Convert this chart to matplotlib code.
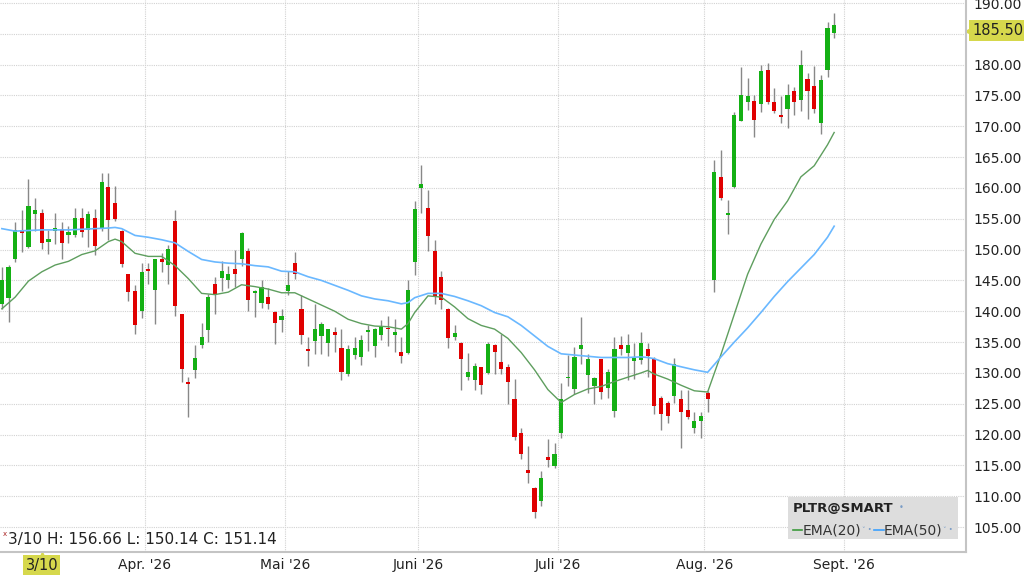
"""
plot.py
-------
PLTR daily candles (Mar-Aug '26) with EMA(20) / EMA(50) overlays,
styled like the broker chart window.
"""

import matplotlib
matplotlib.use("Agg")
import matplotlib.pyplot as plt
import matplotlib.transforms as mtransforms
from matplotlib.patches import Rectangle
from matplotlib.lines import Line2D

# --- data, x = trading-day index, 0 = 3/10 ---------------------------------
first_idx = -6
opens = [141.1, 142.1, 148.5, 153.0, 150.5, 155.7,
         155.9, 151.3, 153.1, 153.4, 152.4, 152.4, 155.1, 153.2, 155.1, 153.5,
         160.2, 157.5, 153.1, 146.0, 143.3, 140.1, 146.9, 143.5, 148.4, 147.5,
         154.7, 139.5, 128.5, 130.4, 134.5, 136.9, 144.4, 145.4, 145.0, 146.9,
         148.5, 149.8, 143.0, 141.3, 142.3, 139.9, 138.6, 143.3, 147.8, 140.4,
         133.9, 135.2, 136.0, 134.9, 136.6, 134.1, 129.8, 132.9, 132.6, 136.6,
         134.3, 136.1, 137.3, 136.2, 133.4, 133.2, 148.0, 160.0, 156.7, 149.8,
         145.5, 140.4, 135.8, 134.9, 129.3, 128.9, 130.9, 130.0, 134.6, 131.8,
         130.9, 125.8, 120.2, 114.2, 111.4, 109.2, 116.3, 114.9, 120.2, 129.1,
         127.4, 133.8, 129.6, 127.8, 132.2, 127.6, 123.8, 134.5, 133.2, 131.9,
         132.1, 133.8, 132.3, 126.0, 125.2, 126.2, 125.8, 124.0, 121.1, 122.2,
         126.7, 145.0, 161.8, 155.7, 160.1, 170.9, 174.0, 174.1, 173.7, 179.1,
         173.9, 171.9, 172.8, 175.8, 174.3, 177.6, 176.5, 170.6, 179.1, 185.2]
highs = [147.2, 147.5, 154.5, 156.4, 161.5, 158.4,
         156.66, 153.2, 155.9, 154.5, 153.9, 156.8, 156.8, 156.3, 156.6, 162.5,
         162.5, 160.3, 153.2, 146.1, 144.2, 147.8, 147.8, 148.5, 149.5, 150.7,
         156.4, 139.6, 129.3, 134.5, 138.1, 142.8, 145.5, 148.2, 147.3, 150.0,
         152.8, 150.2, 143.5, 145.1, 143.8, 140.0, 140.3, 146.5, 149.6, 142.6,
         135.8, 141.1, 138.2, 137.2, 137.4, 137.1, 134.6, 135.8, 136.1, 137.7,
         137.3, 138.6, 139.2, 138.7, 135.8, 145.0, 157.9, 163.8, 159.6, 151.6,
         146.5, 140.5, 137.8, 135.0, 133.3, 131.6, 131.0, 135.0, 134.7, 136.3,
         131.5, 129.0, 121.0, 118.1, 111.5, 114.1, 119.2, 118.7, 128.4, 132.9,
         134.2, 139.0, 133.1, 129.4, 132.3, 130.7, 135.8, 136.0, 136.3, 134.8,
         136.6, 134.8, 132.5, 126.3, 125.4, 132.4, 127.2, 127.2, 123.6, 123.6,
         127.1, 164.5, 166.1, 158.0, 172.3, 179.6, 177.8, 175.0, 179.9, 180.2,
         176.2, 174.9, 176.8, 176.3, 182.4, 178.7, 179.8, 178.4, 186.9, 188.4]
lows = [140.4, 138.2, 148.0, 149.6, 150.2, 153.0,
        150.14, 149.3, 150.9, 148.5, 151.1, 152.0, 152.1, 150.4, 149.1, 153.1,
        151.6, 154.7, 147.1, 141.6, 136.3, 138.9, 144.4, 137.9, 146.4, 144.5,
        139.2, 128.5, 122.8, 129.2, 134.0, 135.0, 139.6, 143.3, 143.8, 144.0,
        147.4, 140.0, 139.0, 140.6, 140.4, 134.7, 136.6, 142.6, 145.2, 134.7,
        131.2, 133.0, 133.0, 132.8, 133.4, 128.8, 129.5, 132.3, 131.3, 133.6,
        132.5, 135.4, 134.3, 133.4, 131.6, 133.0, 145.9, 156.0, 149.8, 141.2,
        140.3, 134.0, 135.3, 127.3, 128.8, 127.2, 126.6, 129.9, 129.8, 129.9,
        125.0, 119.1, 116.1, 112.2, 106.4, 108.4, 114.8, 114.6, 119.4, 127.8,
        126.6, 131.5, 126.8, 124.9, 125.8, 125.9, 122.8, 132.9, 128.8, 129.0,
        131.5, 129.4, 123.3, 120.7, 121.9, 125.2, 117.9, 122.5, 120.2, 119.5,
        123.6, 143.2, 158.1, 152.6, 160.0, 170.8, 172.6, 168.3, 172.3, 173.7,
        172.1, 170.6, 169.7, 171.9, 172.5, 171.2, 172.2, 168.8, 178.0, 184.4]
closes = [145.1, 147.2, 153.2, 152.8, 157.1, 156.4,
          151.14, 151.7, 153.5, 151.0, 152.8, 155.1, 152.8, 155.7, 150.6, 160.9,
          154.8, 155.0, 147.6, 143.1, 137.7, 146.3, 146.5, 148.4, 148.0, 150.1,
          140.9, 130.6, 128.2, 132.4, 135.8, 142.3, 142.7, 146.5, 146.0, 146.0,
          152.7, 141.8, 143.3, 144.0, 141.2, 138.1, 139.2, 144.2, 146.1, 136.1,
          133.6, 137.1, 137.9, 137.1, 136.2, 130.1, 133.8, 134.1, 135.3, 136.9,
          137.2, 137.4, 137.1, 136.6, 132.7, 143.4, 156.6, 160.7, 152.2, 142.3,
          141.8, 135.6, 136.5, 132.2, 130.2, 131.1, 128.1, 134.7, 133.4, 130.7,
          128.6, 119.6, 116.8, 113.7, 107.5, 112.9, 115.8, 116.8, 125.8, 129.4,
          132.6, 134.5, 132.3, 129.1, 126.9, 130.1, 133.8, 133.8, 134.5, 132.4,
          134.9, 132.7, 124.7, 123.3, 123.0, 131.4, 123.6, 122.9, 122.2, 123.0,
          125.7, 162.6, 158.4, 155.9, 171.9, 175.1, 174.9, 171.0, 179.0, 174.0,
          172.5, 171.5, 175.0, 173.9, 179.9, 175.8, 172.8, 177.5, 186.0, 186.4]

ema_idx = [-6, -4, -2, 0, 2, 4, 6, 8, 10, 11, 12, 14, 16, 18, 20, 22, 24, 26,
           28, 30, 32, 34, 36, 38, 40, 42, 44, 46, 48, 50, 52, 54, 55, 56, 58,
           60, 62, 64, 66, 68, 70, 72, 74, 76, 78, 80, 82, 84, 86, 88, 90, 91,
           92, 94, 96, 98, 100, 102, 104, 106, 108, 110, 112, 114, 116, 118, 119]
ema20 = [140.4, 142.3, 144.9, 146.4, 147.5, 148.1, 149.2, 149.8, 151.3, 151.7,
         151.3, 149.4, 148.9, 148.9, 147.4, 145.3, 142.9, 142.7, 143.1, 144.3,
         144.0, 143.6, 143.0, 143.0, 142.0, 141.0, 140.0, 138.7, 138.0, 137.6,
         137.5, 137.1, 138.0, 139.8, 142.5, 142.3, 140.7, 138.8, 137.7, 137.1,
         135.6, 133.3, 130.5, 127.3, 125.2, 126.5, 127.4, 127.8, 128.6, 129.3,
         130.0, 130.4, 129.8, 129.0, 128.0, 127.1, 126.9, 133.0, 139.5, 146.0,
         150.9, 154.9, 157.9, 161.8, 163.6, 167.0, 169.0]
ema50 = [153.4, 153.0, 153.1, 153.2, 153.2, 153.2, 153.3, 153.4, 153.5, 153.6,
         153.4, 152.3, 152.0, 151.6, 151.1, 149.7, 148.4, 148.0, 147.8, 147.7,
         147.4, 147.2, 146.5, 146.4, 145.6, 145.0, 144.2, 143.4, 142.5, 142.0,
         141.7, 141.2, 141.4, 142.2, 142.9, 142.9, 142.4, 141.7, 140.9, 139.8,
         139.1, 137.7, 136.0, 134.3, 133.1, 132.9, 132.7, 132.5, 132.5, 132.5,
         132.6, 132.5, 132.3, 131.5, 131.0, 130.5, 130.1, 132.6, 135.0, 137.3,
         139.8, 142.4, 144.8, 147.0, 149.2, 152.0, 153.8]

# month boundaries (between sessions) and their labels
month_edges = [15.5, 36.5, 56.5, 77.5, 99.5, 120.5]
month_labels = ["Apr. '26", "Mai '26", "Juni '26", "Juli '26", "Aug. '26", "Sept. '26"]
y_ticks = list(range(105, 191, 5))
last_price = 185.50
info_text = "3/10 H: 156.66 L: 150.14 C: 151.14"

UP, DOWN, WICK = "#14b014", "#e00000", "#888888"
GRID = "#d2d2d2"
HILITE = "#d6d84c"


def main(outfile="out.png"):
    fig = plt.figure(figsize=(10.24, 5.75), dpi=100, facecolor="white")
    ax = fig.add_axes([0, 23 / 575, 966 / 1024, 552 / 575])

    xs = list(range(first_idx, first_idx + len(opens)))
    ax.vlines(xs, lows, highs, color=WICK, linewidth=1.0, zorder=2)
    for x, o, c in zip(xs, opens, closes):
        col = UP if c >= o else DOWN
        h = max(abs(c - o), 0.28)
        base = min(o, c) if abs(c - o) >= 0.28 else (o + c) / 2 - 0.14
        ax.bar(x, h, bottom=base, width=0.62, color=col, linewidth=0, zorder=3)

    ax.plot(ema_idx, ema20, color="#5e9e5e", linewidth=1.0, zorder=4)
    ax.plot(ema_idx, ema50, color="#6ab8ff", linewidth=1.2, zorder=4)

    ax.set_xlim(-6.28, 138.8)
    ax.set_ylim(100.95, 190.49)

    ax.set_yticks(y_ticks)
    ax.set_yticklabels(["" if v == 185 else f"{v:.2f}" for v in y_ticks])
    ax.yaxis.tick_right()
    ax.set_xticks(month_edges)
    ax.set_xticklabels(month_labels)
    ax.tick_params(axis="y", length=0, pad=5, labelsize=10, labelcolor="#222222")
    ax.tick_params(axis="x", length=0, pad=4, labelsize=10, labelcolor="#222222")
    ax.grid(True, color=GRID, linestyle=(0, (1, 1)), linewidth=0.8)
    ax.set_axisbelow(True)
    for side in ("top", "left"):
        ax.spines[side].set_visible(False)
    for side in ("right", "bottom"):
        ax.spines[side].set_color("#c4c4c4")
        ax.spines[side].set_linewidth(1.5)

    # last price tag on the right axis
    tr = mtransforms.blended_transform_factory(ax.transAxes, ax.transData)
    ax.text(1.0 + 6 / 966, last_price, f"{last_price:.2f}", transform=tr,
            ha="left", va="center", fontsize=10.5, color="#222222", clip_on=False,
            bbox=dict(boxstyle="square,pad=0.2", facecolor=HILITE, edgecolor="none"))
    ax.plot([1.0 + 2 / 966], [last_price], transform=tr, marker="<", markersize=5,
            color=HILITE, clip_on=False)

    # crosshair date tag + hover info
    tr_x = mtransforms.blended_transform_factory(ax.transData, ax.transAxes)
    ax.text(0, -0.0236, "3/10", transform=tr_x, ha="center", va="center",
            fontsize=10.5, color="#222222", clip_on=False,
            bbox=dict(boxstyle="square,pad=0.15", facecolor=HILITE, edgecolor="none"))
    ax.plot([0], [-0.006], transform=tr_x, marker="^", markersize=4, color=HILITE,
            clip_on=False)
    ax.text(8 / 966, 0.022, info_text, transform=ax.transAxes, ha="left",
            va="center", fontsize=11, color="#222222")
    ax.text(3 / 966, 0.032, "x", transform=ax.transAxes, ha="left", va="center",
            fontsize=5, color="#aa2222")

    # legend panel
    px = lambda x: x / 1024
    py = lambda y: 1 - y / 575
    fig.patches.append(Rectangle((px(788), py(539)), px(170), 42 / 575,
                                 transform=fig.transFigure, facecolor="#dddddd",
                                 edgecolor="none", zorder=5))
    fig.text(px(793), py(508), "PLTR@SMART", fontsize=9.5, fontweight="bold",
             color="#222222", va="center", zorder=6)
    fig.text(px(899), py(508), "•", fontsize=6, color="#7a9cc6", va="center", zorder=6)
    fig.lines.append(Line2D([px(793), px(802)], [py(530)] * 2, color="#3c9a3c",
                            linewidth=1.2, transform=fig.transFigure, zorder=6))
    fig.text(px(803), py(530), "EMA(20)", fontsize=10, color="#333333",
             va="center", zorder=6)
    fig.text(px(862), py(530), "˅ •", fontsize=5, color="#7a9cc6", va="center", zorder=6)
    fig.lines.append(Line2D([px(874), px(884)], [py(530)] * 2, color="#3aa0ff",
                            linewidth=1.2, transform=fig.transFigure, zorder=6))
    fig.text(px(884), py(530), "EMA(50)", fontsize=10, color="#333333",
             va="center", zorder=6)
    fig.text(px(943), py(530), "˅ •", fontsize=5, color="#7a9cc6", va="center", zorder=6)

    fig.savefig(outfile, dpi=100, facecolor="white")
    plt.close(fig)
    return outfile


if __name__ == "__main__":
    main()
